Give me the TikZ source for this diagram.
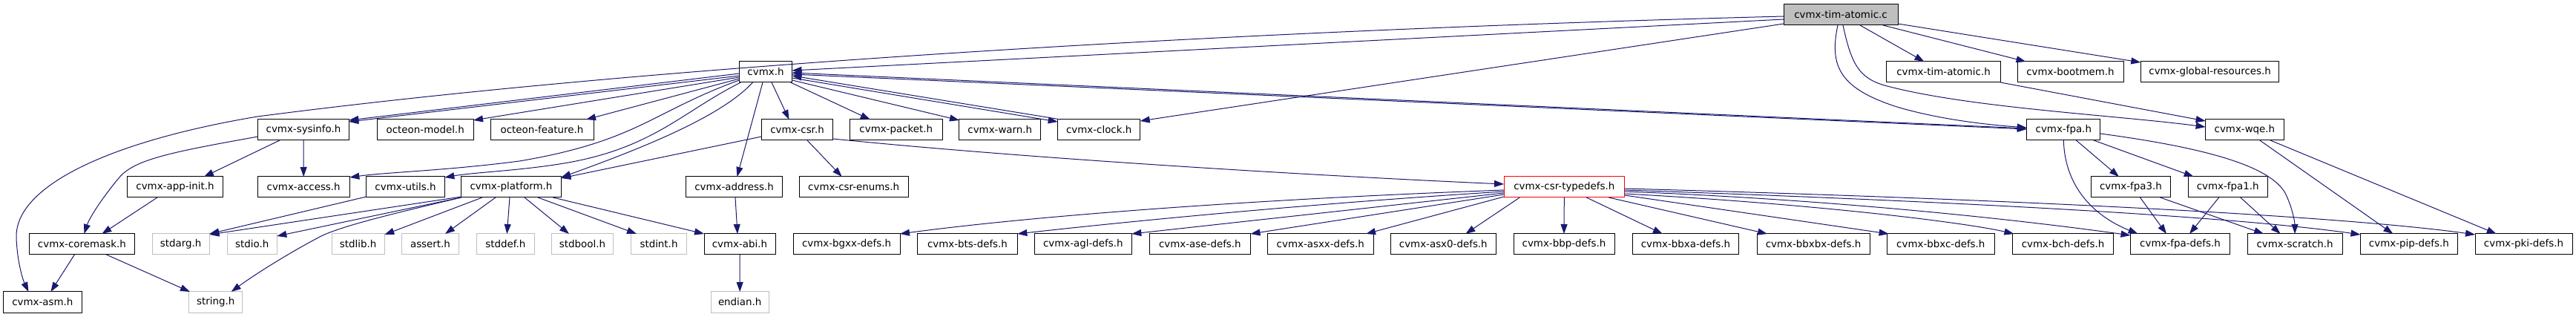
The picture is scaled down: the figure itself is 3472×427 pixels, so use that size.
\documentclass[tikz,border=0pt]{standalone}
\usepackage{fontspec}
\setmainfont{DejaVu Sans}
\usetikzlibrary{arrows.meta, calc}
\definecolor{edgeblue}{HTML}{191970}
\definecolor{sysgray}{HTML}{BFBFBF}

\begin{document}
\begin{tikzpicture}[
  x=1pt, y=-1pt,
  file/.style={
    rectangle, draw=black, fill=white, line width=1pt,
    minimum height=28pt, inner sep=0pt, outer sep=0pt,
    font=\fontsize{13.4}{16}\selectfont
  },
  sysfile/.style={
    file, draw=sysgray
  },
  rootfile/.style={
    file, fill=sysgray
  },
  hotfile/.style={
    file, draw=red
  },
  edge/.style={
    -{Triangle[length=13pt, width=9pt]}, line width=1pt, color=edgeblue
  }
]
\useasboundingbox (0,0) rectangle (3472,427);

% ================= Row 0: Source File =================
\node[rootfile, minimum width=154pt] (root) at (2481,20) {cvmx-tim-atomic.c};

% ================= Row 1 =================
\node[file, minimum width=71pt] (cvmx) at (1032,97) {cvmx.h};
\node[file, minimum width=153.6pt] (tah) at (2619.5,97) {cvmx-tim-atomic.h};
\node[file, minimum width=143pt] (bootmem) at (2790.5,97) {cvmx-bootmem.h};
\node[file, minimum width=186.7pt] (globalres) at (2978.6,97) {cvmx-global-resources.h};

% ================= Row 2 =================
\node[file, minimum width=122.6pt] (sysinfo) at (409,175) {cvmx-sysinfo.h};
\node[file, minimum width=129.7pt] (omodel) at (573.2,175) {octeon-model.h};
\node[file, minimum width=139pt] (ofeature) at (730.5,175) {octeon-feature.h};
\node[file, minimum width=96.4pt] (csr) at (1074.5,175) {cvmx-csr.h};
\node[file, minimum width=125pt] (packet) at (1207.8,175) {cvmx-packet.h};
\node[file, minimum width=109.7pt] (warn) at (1347.8,175) {cvmx-warn.h};
\node[file, minimum width=111pt] (clock) at (1481.2,175) {cvmx-clock.h};
\node[file, minimum width=99.3pt] (fpa) at (2781.3,175) {cvmx-fpa.h};
\node[file, minimum width=105.6pt] (wqe) at (3025.4,175) {cvmx-wqe.h};

% ================= Row 3 =================
\node[file, minimum width=128.2pt] (appinit) at (236,252) {cvmx-app-init.h};
\node[file, minimum width=124.3pt] (access) at (409.2,252) {cvmx-access.h};
\node[file, minimum width=105.7pt] (utils) at (546.5,252) {cvmx-utils.h};
\node[file, minimum width=134.7pt] (platform) at (689,252) {cvmx-platform.h};
\node[file, minimum width=129.7pt] (address) at (989.5,252) {cvmx-address.h};
\node[file, minimum width=146.6pt] (csrenums) at (1150.7,252) {cvmx-csr-enums.h};
\node[hotfile, minimum width=162.6pt] (typedefs) at (2108.3,252) {cvmx-csr-typedefs.h};
\node[file, minimum width=106.7pt] (fpathree) at (2871.9,252) {cvmx-fpa3.h};
\node[file, minimum width=106.9pt] (fpaone) at (3002.7,252) {cvmx-fpa1.h};

% ================= Row 4 =================
\node[file, minimum width=142.8pt] (coremask) at (110.4,329) {cvmx-coremask.h};
\node[sysfile, minimum width=77.4pt] (stdarg) at (243.7,329) {stdarg.h};
\node[sysfile, minimum width=67pt] (stdio) at (339.8,329) {stdio.h};
\node[sysfile, minimum width=71.3pt] (stdlib) at (482.7,329) {stdlib.h};
\node[sysfile, minimum width=77.3pt] (assert) at (580,329) {assert.h};
\node[sysfile, minimum width=78pt] (stddef) at (681.3,329) {stddef.h};
\node[sysfile, minimum width=82.3pt] (stdbool) at (785,329) {stdbool.h};
\node[sysfile, minimum width=74.2pt] (stdint) at (888,329) {stdint.h};
\node[file, minimum width=96pt] (abi) at (997,329) {cvmx-abi.h};
\node[file, minimum width=144pt] (bgxx) at (1141,329) {cvmx-bgxx-defs.h};
\node[file, minimum width=134.7pt] (bts) at (1304,329) {cvmx-bts-defs.h};
\node[file, minimum width=131pt] (agl) at (1459.8,329) {cvmx-agl-defs.h};
\node[file, minimum width=136.2pt] (ase) at (1617.4,329) {cvmx-ase-defs.h};
\node[file, minimum width=142.5pt] (asxx) at (1779.8,329) {cvmx-asxx-defs.h};
\node[file, minimum width=142.6pt] (asxzero) at (1945.3,329) {cvmx-asx0-defs.h};
\node[file, minimum width=136pt] (bbp) at (2108,329) {cvmx-bbp-defs.h};
\node[file, minimum width=143.8pt] (bbxa) at (2271.9,329) {cvmx-bbxa-defs.h};
\node[file, minimum width=152pt] (bbxbx) at (2444,329) {cvmx-bbxbx-defs.h};
\node[file, minimum width=144.4pt] (bbxc) at (2615.8,329) {cvmx-bbxc-defs.h};
\node[file, minimum width=136.4pt] (bch) at (2780.6,329) {cvmx-bch-defs.h};
\node[file, minimum width=133.9pt] (fpadefs) at (2938.5,329) {cvmx-fpa-defs.h};
\node[file, minimum width=128.2pt] (scratch) at (3093.1,329) {cvmx-scratch.h};
\node[file, minimum width=130.9pt] (pipdefs) at (3246.9,329) {cvmx-pip-defs.h};
\node[file, minimum width=131pt] (pkidefs) at (3401.5,329) {cvmx-pki-defs.h};

% ================= Row 5 =================
\node[file, minimum width=105.6pt] (asm) at (57.4,407) {cvmx-asm.h};
\node[sysfile, minimum width=71.5pt] (string) at (290.7,407) {string.h};
\node[sysfile, minimum width=78.4pt] (endian) at (997.2,407) {endian.h};

% ================= Connections: Source File =================
\draw[edge] ($(root.west)+(0,2)$) .. controls (1700,40) and (900,85) .. (347,157)
  .. controls (150,190) and (20,250) .. (22,320) .. controls (23,350) and (30,375) .. ($(asm.north)+(-19,0)$);
\draw[edge] ($(root.west)+(0,6)$) -- ($(cvmx.east)+(0,-2)$);
\draw[edge] ($(root.west)+(0,12)$) -- ($(clock.north east)+(0,2)$);
\draw[edge] ($(root.east)+(0,12)$) -- ($(globalres.north west)+(0,1)$);
\draw[edge] ($(root.south)+(26,0)$) -- ($(tah.north)+(-26,0)$);
\draw[edge] ($(root.south)+(57,0)$) -- ($(bootmem.north)+(-60,0)$);
\draw[edge] ($(root.south)+(-4,0)$) .. controls (2465,90) and (2480,120) .. (2560,145)
  .. controls (2620,162) and (2680,168) .. ($(fpa.west)+(0,-3)$);
\draw[edge] ($(root.south)+(3,0)$) .. controls (2495,85) and (2505,105) .. (2540,115)
  .. controls (2650,145) and (2850,155) .. ($(wqe.west)+(0,-4)$);
\draw[edge] (tah.south east) -- ($(wqe.north west)+(0,2)$);

% ================= Connections: cvmx.h =================
\draw[edge] ($(cvmx.east)+(0,3)$) -- ($(fpa.west)+(0,-1)$);
\draw[edge] ($(fpa.west)+(0,-2)$) -- ($(cvmx.east)+(0,1)$);
\draw[edge] ($(cvmx.east)+(0,8)$) -- ($(clock.north west)+(0,3)$);
\draw[edge] ($(clock.north west)+(4,0)$) -- ($(cvmx.east)+(0,5)$);
\draw[edge] ($(cvmx.south east)+(0,-3)$) -- ($(warn.north west)+(0,1)$);
\draw[edge] ($(cvmx.south east)+(-2,0)$) -- ($(packet.north)+(-35,0)$);
\draw[edge] ($(cvmx.south)+(8,0)$) -- ($(csr.north)+(-11,0)$);
\draw[edge] ($(cvmx.south)+(-4,0)$) -- ($(address.north)+(4,0)$);
\draw[edge] ($(cvmx.west)+(0,2)$) -- ($(sysinfo.north east)+(0,1)$);
\draw[edge] ($(cvmx.west)+(0,5)$) -- ($(sysinfo.north east)+(0,3)$);
\draw[edge] ($(cvmx.west)+(0,7)$) -- ($(omodel.north east)+(0,1)$);
\draw[edge] ($(cvmx.west)+(0,9)$) -- ($(ofeature.north east)+(-10,0)$);
\draw[edge] ($(cvmx.west)+(0,11)$) .. controls (880,150) and (860,190) .. (700,217)
  .. controls (600,230) and (520,232) .. ($(access.north east)+(0,1)$);
\draw[edge] ($(cvmx.south west)+(2,0)$) .. controls (920,150) and (880,200) .. (760,220)
  .. controls (700,230) and (640,232) .. ($(utils.north east)+(0,1)$);
\draw[edge] ($(cvmx.south west)+(18,0)$) .. controls (970,160) and (850,205) .. ($(platform.north east)+(0,1)$);

% ================= Connections: Left Branch =================
\draw[edge] ($(sysinfo.west)+(0,9)$) .. controls (230,205) and (180,215) .. (160,240)
  .. controls (135,270) and (120,295) .. ($(coremask.north)+(3,0)$);
\draw[edge] ($(sysinfo.south)+(-32,0)$) -- ($(appinit.north)+(39,0)$);
\draw[edge] (sysinfo.south) -- (access.north);
\draw[edge] ($(appinit.south)+(-24,0)$) -- ($(coremask.north)+(27,0)$);
\draw[edge] ($(coremask.south)+(-10,0)$) -- ($(asm.north)+(11,0)$);
\draw[edge] ($(coremask.south)+(33,0)$) -- ($(string.north west)+(1,0)$);
\draw[edge] ($(utils.south west)+(0,-1)$) -- (stdarg.north east);

% ================= Connections: cvmx-platform.h =================
\draw[edge] ($(platform.south west)+(0,-1)$) -- ($(stdarg.north east)+(0,1)$);
\draw[edge] (platform.south west) -- ($(stdio.north east)+(0,3)$);
\draw[edge] (platform.south west) .. controls (520,290) and (460,305) .. (433,318)
  .. controls (400,335) and (350,365) .. ($(string.north)+(21,0)$);
\draw[edge] ($(platform.south)+(-39,0)$) -- ($(stdlib.north east)+(0,1)$);
\draw[edge] ($(platform.south)+(-21,0)$) -- ($(assert.north)+(20,0)$);
\draw[edge] ($(platform.south)+(-2,0)$) -- ($(stddef.north)+(2,0)$);
\draw[edge] ($(platform.south)+(18,0)$) -- ($(stdbool.north)+(-18,0)$);
\draw[edge] ($(platform.south)+(36,0)$) -- ($(stdint.north)+(-30,0)$);
\draw[edge] ($(platform.south east)+(-11,0)$) -- (abi.north west);

% ================= Connections: cvmx-csr.h and cvmx-address.h =================
\draw[edge] ($(csr.west)+(0,9)$) -- ($(platform.north east)+(0,2)$);
\draw[edge] ($(csr.south)+(13.5,0)$) -- ($(csrenums.north)+(-16,0)$);
\draw[edge] ($(csr.east)+(0,12)$) .. controls (1400,215) and (1800,238) .. ($(typedefs.west)+(0,-4)$);
\draw[edge] ($(address.south)+(1.5,0)$) -- ($(abi.north)+(-3,0)$);
\draw[edge] (abi.south) -- (endian.north);

% ================= Connections: cvmx-csr-typedefs.h =================
\draw[edge] ($(typedefs.west)+(0,4)$) .. controls (1700,268) and (1400,290) .. (bgxx.north east);
\draw[edge] ($(typedefs.west)+(0,6)$) .. controls (1800,272) and (1550,295) .. (bts.north east);
\draw[edge] ($(typedefs.west)+(0,8)$) -- (agl.north east);
\draw[edge] ($(typedefs.west)+(0,10)$) -- (ase.north east);
\draw[edge] ($(typedefs.south west)+(0,-1)$) -- ($(asxx.north east)+(-10,0)$);
\draw[edge] ($(typedefs.south)+(-60,0)$) -- ($(asxzero.north)+(30,0)$);
\draw[edge] (typedefs.south) -- (bbp.north);
\draw[edge] ($(typedefs.south)+(30,0)$) -- ($(bbxa.north)+(-31,0)$);
\draw[edge] ($(typedefs.south)+(60,0)$) -- ($(bbxbx.north)+(-62,0)$);
\draw[edge] ($(typedefs.east)+(0,11)$) -- ($(bbxc.north west)+(2,0)$);
\draw[edge] ($(typedefs.east)+(0,9)$) .. controls (2450,275) and (2650,300) .. ($(bch.north west)+(2,0)$);
\draw[edge] ($(typedefs.east)+(0,6)$) .. controls (2500,270) and (2750,300) .. ($(fpadefs.north west)+(0,2)$);
\draw[edge] ($(typedefs.east)+(0,4)$) .. controls (2600,270) and (3000,290) .. ($(pipdefs.north west)+(0,1)$);
\draw[edge] ($(typedefs.east)+(0,2)$) .. controls (2700,268) and (3150,290) .. ($(pkidefs.north west)+(0,1)$);

% ================= Connections: cvmx-fpa.h and cvmx-wqe.h =================
\draw[edge] (fpa.south) .. controls (2783,250) and (2820,290) .. ($(fpadefs.north west)+(10,0)$);
\draw[edge] ($(fpa.south)+(17,0)$) -- ($(fpathree.north)+(-16,0)$);
\draw[edge] ($(fpa.south east)+(-9,0)$) -- ($(fpaone.north)+(-46,0)$);
\draw[edge] ($(fpa.east)+(0,5)$) .. controls (2980,200) and (3060,225) .. (3080,260)
  .. controls (3090,280) and (3093,300) .. (scratch.north);
\draw[edge] ($(fpathree.south)+(12.6,0)$) -- ($(fpadefs.north)+(-18.5,0)$);
\draw[edge] ($(fpathree.south)+(39.6,0)$) -- ($(scratch.north)+(-42,0)$);
\draw[edge] ($(fpaone.south)+(-12,0)$) -- ($(fpadefs.north)+(12.5,0)$);
\draw[edge] ($(fpaone.south)+(17,0)$) -- ($(scratch.north)+(-19.5,0)$);
\draw[edge] ($(wqe.south)+(20.4,0)$) -- ($(pipdefs.north)+(-21.5,0)$);
\draw[edge] ($(wqe.south)+(34.6,0)$) -- ($(pkidefs.north)+(-36.8,0)$);

\end{tikzpicture}
\end{document}
